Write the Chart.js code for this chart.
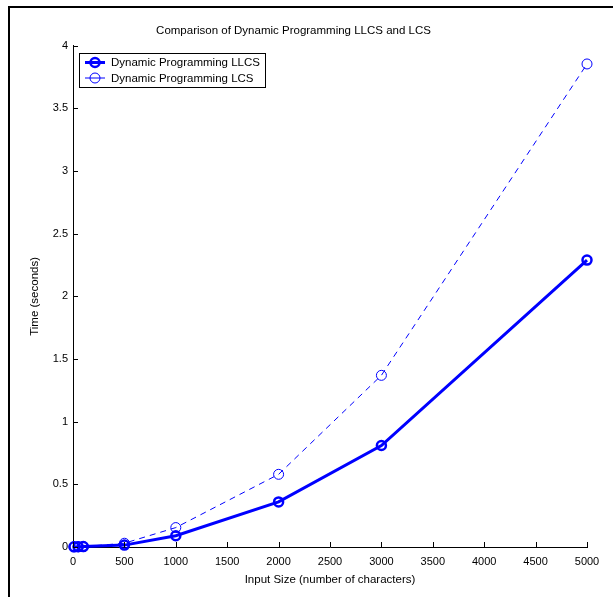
<!DOCTYPE html>
<html>
<head>
<meta charset="utf-8">
<script src="https://cdn.jsdelivr.net/npm/chart.js@4.4.1/dist/chart.umd.min.js"></script>
<style>
  html, body { margin: 0; padding: 0; background: #fff; }
  #wrap { position: relative; width: 613px; height: 597px; overflow: hidden; }
  #frame { position: absolute; left: 8px; top: 6px; width: 700px; height: 700px;
           border-left: 2px solid #000; border-top: 2px solid #000; pointer-events: none; }
  canvas { position: absolute; left: 0; top: 0; }
</style>
</head>
<body>
<div id="wrap">
  <canvas id="c" width="613" height="597"></canvas>
  <div id="frame"></div>
</div>
<script>
// ---- data ----
const inputSizes = [10, 50, 100, 500, 1000, 2000, 3000, 5000];
const llcsTimes  = [0.001, 0.002, 0.003, 0.015, 0.09, 0.36, 0.81, 2.29];
const lcsTimes   = [0.001, 0.002, 0.003, 0.03, 0.155, 0.58, 1.37, 3.855];
const seriesNames = ['Dynamic Programming LLCS', 'Dynamic Programming LCS'];
const xTickStep = 500, yTickStep = 0.5;
const chartTitle = 'Comparison of Dynamic Programming LLCS and LCS';
const xTitle = 'Input Size (number of characters)';
const yTitle = 'Time (seconds)';

const FONT = '"Liberation Sans", Arial, Helvetica, sans-serif';
const BLUE = '#0000ff';

const toXY = ys => inputSizes.map((x, i) => ({x, y: ys[i]}));

const tickPlugin = {
  id: 'inwardTicks',
  afterDatasetsDraw(chart) {
    const ctx = chart.ctx, xs = chart.scales.x, ys = chart.scales.y;
    const a = chart.chartArea;
    ctx.save();
    ctx.strokeStyle = '#000';
    ctx.lineWidth = 1;
    ctx.beginPath();
    xs.ticks.forEach(t => {
      const px = Math.round(xs.getPixelForValue(t.value)) + 0.5;
      ctx.moveTo(px, a.bottom); ctx.lineTo(px, a.bottom - 5);
    });
    ys.ticks.forEach(t => {
      const py = Math.round(ys.getPixelForValue(t.value)) + 0.5;
      ctx.moveTo(a.left, py); ctx.lineTo(a.left + 5, py);
    });
    ctx.stroke();
    ctx.restore();
  }
};

const legendPlugin = {
  id: 'boxLegend',
  afterDraw(chart) {
    const ctx = chart.ctx;
    const x0 = 79.5, y0 = 53.5, w = 186, h = 34;
    ctx.save();
    ctx.fillStyle = '#fff';
    ctx.fillRect(x0, y0, w, h);
    ctx.strokeStyle = '#000';
    ctx.lineWidth = 1;
    ctx.strokeRect(x0, y0, w, h);
    const rows = [62.5, 78];
    chart.data.datasets.forEach((ds, i) => {
      const y = rows[i];
      ctx.strokeStyle = ds.borderColor;
      ctx.lineWidth = ds.borderWidth;
      ctx.setLineDash([]);
      ctx.beginPath();
      ctx.moveTo(85, y); ctx.lineTo(105, y);
      ctx.stroke();
      ctx.lineWidth = ds.pointBorderWidth;
      ctx.beginPath();
      ctx.arc(95, y, ds.pointRadius, 0, Math.PI * 2);
      ctx.stroke();
      ctx.fillStyle = '#000';
      ctx.font = '11.5px ' + FONT;
      ctx.textBaseline = 'middle';
      ctx.textAlign = 'left';
      ctx.fillText(ds.label, 111, y + 0.5);
    });
    ctx.restore();
  }
};

new Chart(document.getElementById('c'), {
  type: 'line',
  data: {
    datasets: [
      {
        label: seriesNames[0],
        data: toXY(llcsTimes),
        borderColor: BLUE,
        borderWidth: 3,
        pointRadius: 4.5,
        pointBorderWidth: 2.5,
        pointBackgroundColor: 'rgba(0,0,0,0)',
        pointBorderColor: BLUE,
        tension: 0,
        clip: false
      },
      {
        label: seriesNames[1],
        data: toXY(lcsTimes),
        borderColor: BLUE,
        borderWidth: 1,
        borderDash: [6, 5],
        pointRadius: 5,
        pointBorderWidth: 1,
        pointBackgroundColor: 'rgba(0,0,0,0)',
        pointBorderColor: BLUE,
        tension: 0,
        clip: false
      }
    ]
  },
  options: {
    responsive: false,
    animation: false,
    devicePixelRatio: 1,
    layout: { padding: { left: 0, right: 26, top: 0, bottom: 0 } },
    plugins: {
      legend: { display: false },
      tooltip: { enabled: false },
      title: {
        display: true,
        text: chartTitle,
        color: '#000',
        font: { family: FONT, size: 11.5, weight: 'normal' },
        padding: { top: 24, bottom: 8 }
      }
    },
    scales: {
      x: {
        type: 'linear',
        min: 0, max: 5000,
        afterFit(s) { s.height = 50; },
        grid: { display: false, drawTicks: false },
        border: { display: true, color: '#000', width: 1 },
        ticks: {
          stepSize: xTickStep, padding: 8, color: '#000', maxRotation: 0,
          font: { family: FONT, size: 11 },
          callback: v => String(v)
        },
        title: {
          display: true, text: xTitle, color: '#000',
          font: { family: FONT, size: 11.5 },
          padding: { top: 0, bottom: 10 }
        }
      },
      y: {
        type: 'linear',
        min: 0, max: 4,
        afterFit(s) { s.width = 73; },
        grid: { display: false, drawTicks: false },
        border: { display: true, color: '#000', width: 1 },
        ticks: {
          stepSize: yTickStep, padding: 5, color: '#000',
          font: { family: FONT, size: 11 },
          callback: v => String(v)
        },
        title: {
          display: true, text: yTitle, color: '#000',
          font: { family: FONT, size: 11.5 },
          padding: { top: 28, bottom: 0 }
        }
      }
    }
  },
  plugins: [tickPlugin, legendPlugin]
});
</script>
</body>
</html>
